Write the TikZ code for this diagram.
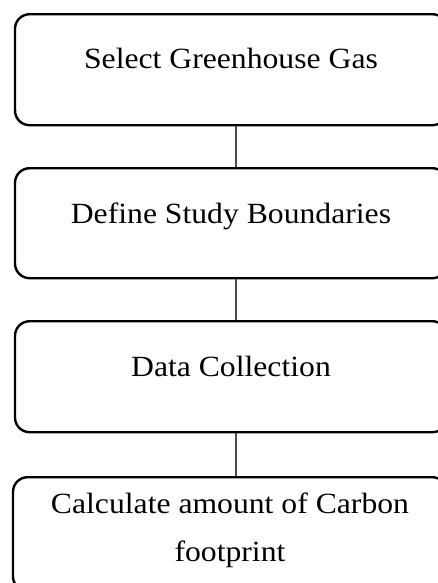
\documentclass[tikz,border=0pt]{standalone}
\usepackage{fontspec}
\setmainfont[FakeStretch=1.08]{Liberation Serif}
\usetikzlibrary{positioning}

\begin{document}
\begin{tikzpicture}[x=0.75pt, y=-0.75pt,
  stepbox/.style={draw=black, line width=1.8pt, rounded corners=11pt, minimum width=324pt, inner sep=0pt, align=center, anchor=north, font=\fontsize{22}{36}\selectfont},
  link/.style={draw=black!70, line width=1.1pt}
]
  \useasboundingbox (0,0) rectangle (437,583);
  \node[stepbox, text height=40.5pt, text depth=42.75pt] (gas) at (231,13) {Select Greenhouse Gas};
  \node[stepbox, text height=41.25pt, text depth=41.25pt] (bound) at (231,167) {Define Study Boundaries};
  \node[stepbox, text height=41.25pt, text depth=42pt] (data) at (231,320) {Data Collection};
  \node[stepbox, minimum width=325.5pt, text height=63pt, text depth=22.5pt] (calc) at (230,476) {Calculate amount of Carbon\\footprint};
  \draw[link] ([xshift=3.75pt]gas.south) -- ([xshift=3.75pt]bound.north);
  \draw[link] ([xshift=3.75pt]bound.south) -- ([xshift=3.75pt]data.north);
  \draw[link] ([xshift=3.75pt]data.south) -- ([xshift=3.75pt]data.south |- calc.north);
\end{tikzpicture}
\end{document}
